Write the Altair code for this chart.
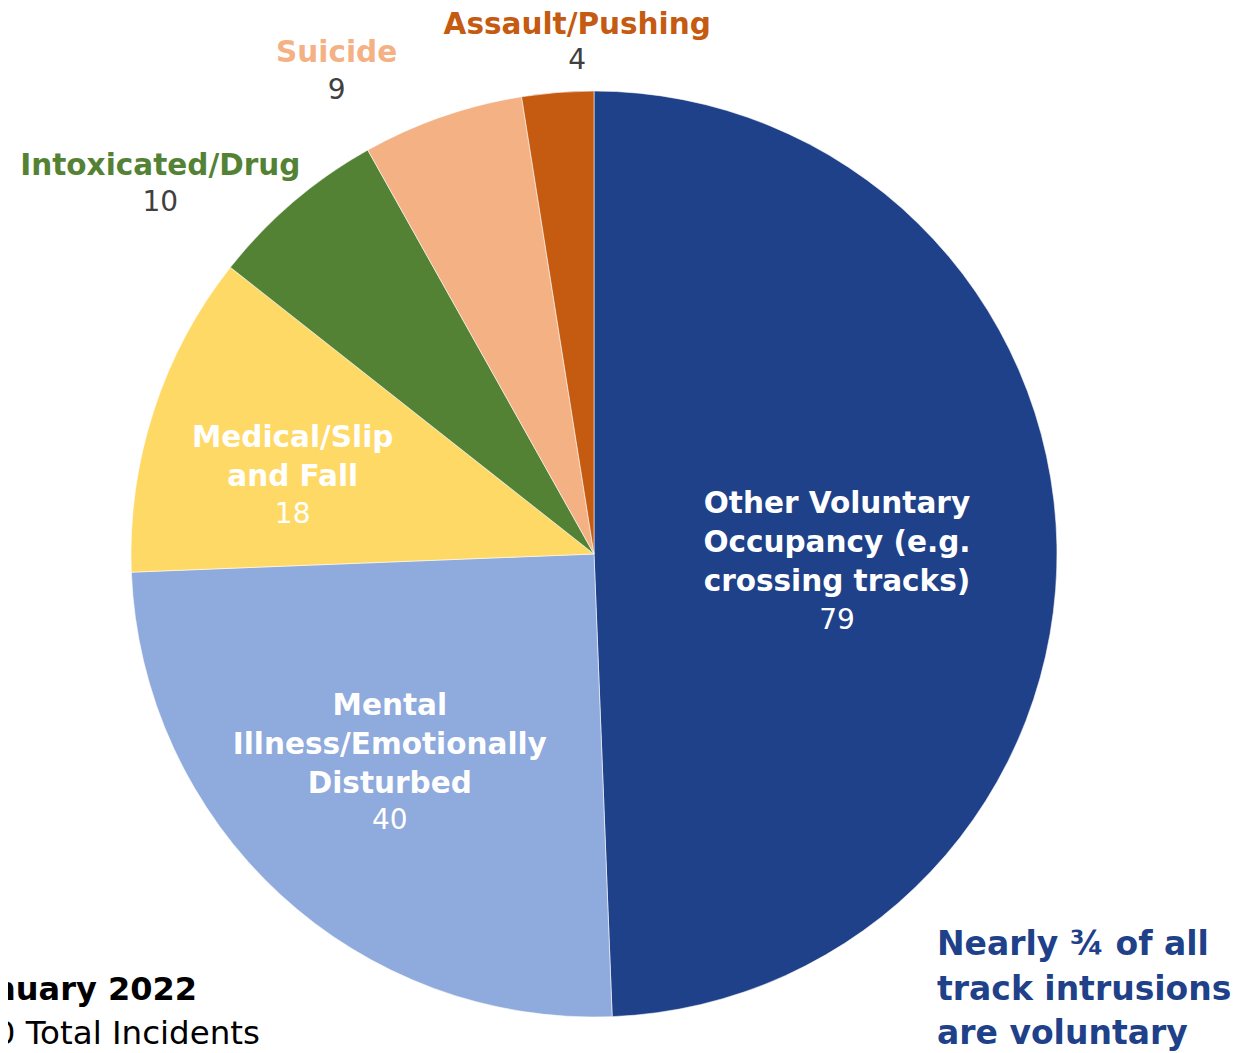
import altair as alt
import pandas as pd

# ---- data ----
categories = [
    "Other Voluntary Occupancy (e.g. crossing tracks)",
    "Mental Illness/Emotionally Disturbed",
    "Medical/Slip and Fall",
    "Intoxicated/Drug",
    "Suicide",
    "Assault/Pushing",
]
label_text = [
    "Other Voluntary\nOccupancy (e.g.\ncrossing tracks)",
    "Mental\nIllness/Emotionally\nDisturbed",
    "Medical/Slip\nand Fall",
    "Intoxicated/Drug",
    "Suicide",
    "Assault/Pushing",
]
values = [79, 40, 18, 10, 9, 4]
colors = ["#1F4189", "#8FAADC", "#FFD966", "#548235", "#F4B183", "#C55A11"]

title_month = "January 2022"
title_total = f"{sum(values)} Total Incidents"
note_text = "Nearly \u00be of all\ntrack intrusions\nare voluntary"

total = sum(values)
df = pd.DataFrame({
    "category": categories,
    "label": label_text,
    "value": values,
    "order": list(range(len(values))),
})

# ---- layout / style ----
W, H = 1224, 1045
CX, CY, R = 586, 546, 463
FONT = "DejaVu Sans"
theta_scale = alt.Scale(domain=[0, total], range=[0, 6.283185307179586])

# per-label placement (radius, dx, dy for name, dy for number, name colour, number colour)
label_style = [
    dict(r=243, dx=0, dyn=-45, dyv=72, cn="white", cv="white"),
    dict(r=292, dx=-6, dyn=-62, dyv=53, cn="white", cv="white"),
    dict(r=300, dx=-16, dyn=-23, dyv=54, cn="white", cv="white"),
    dict(r=520, dx=-96, dyn=7, dyv=44, cn=colors[3], cv="#404040"),
    dict(r=520, dx=-87, dyn=-10, dyv=28, cn=colors[4], cv="#404040"),
    dict(r=520, dx=24, dyn=-11, dyv=25, cn=colors[5], cv="#404040"),
]

base = alt.Chart(df)

pie = base.mark_arc(radius=R, stroke="white", strokeWidth=0.8, strokeOpacity=0.7).encode(
    theta=alt.Theta("value:Q", stack=True, scale=theta_scale),
    color=alt.Color("category:N", scale=alt.Scale(domain=categories, range=colors), legend=None),
    order=alt.Order("order:Q"),
    x=alt.value(CX),
    y=alt.value(CY),
)

mid = base.transform_window(
    cum="sum(value)", sort=[alt.SortField("order")], frame=[None, 0]
).transform_calculate(mid="datum.cum - datum.value / 2")

layers = [pie]
for i, st in enumerate(label_style):
    sub = mid.transform_filter(alt.datum.order == i)
    enc = dict(
        theta=alt.Theta("mid:Q", stack=None, scale=theta_scale),
        x=alt.value(CX),
        y=alt.value(CY),
    )
    name = sub.mark_text(
        radius=st["r"], dx=st["dx"], dy=st["dyn"], font=FONT, fontSize=29.5,
        fontWeight="bold", color=st["cn"], align="center", baseline="middle",
        lineBreak="\n", lineHeight=39,
    ).encode(text="label:N", **enc)
    num = sub.mark_text(
        radius=st["r"], dx=st["dx"], dy=st["dyv"], font=FONT, fontSize=28,
        color=st["cv"], align="center", baseline="middle",
    ).encode(text="value:Q", **enc)
    layers += [name, num]

note = alt.Chart(pd.DataFrame({"t": [note_text]})).mark_text(
    font=FONT, fontSize=33, fontWeight="bold", color=colors[0], align="left",
    baseline="middle", lineBreak="\n", lineHeight=44.5,
).encode(x=alt.value(929), y=alt.value(937), text="t:N")

month = alt.Chart(pd.DataFrame({"t": [title_month]})).mark_text(
    font=FONT, fontSize=32, fontWeight="bold", color="black", align="right", baseline="middle",
).encode(x=alt.value(189), y=alt.value(982), text="t:N")

tot = alt.Chart(pd.DataFrame({"t": [title_total]})).mark_text(
    font=FONT, fontSize=32.5, color="black", align="right", baseline="middle",
).encode(x=alt.value(252), y=alt.value(1026), text="t:N")

layers += [note, month, tot]

chart = alt.layer(*layers).properties(
    width=W, height=H, padding=0, autosize=alt.AutoSizeParams(type="none"),
).configure_view(stroke=None)

chart.save("out.html", embed_options={"renderer": "svg", "actions": False})
